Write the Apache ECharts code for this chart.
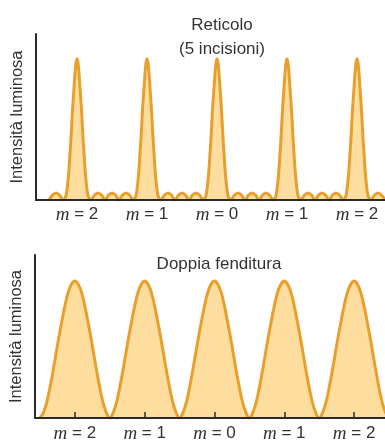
<!DOCTYPE html>
<html>
<head>
<meta charset="utf-8">
<script src="https://cdn.jsdelivr.net/npm/echarts@6/dist/echarts.min.js"></script>
<style>
  html, body { margin: 0; padding: 0; background: #fff; }
  #chart { width: 385px; height: 443px; }
</style>
</head>
<body>
<div id="chart"></div>
<script>
// orders of the maxima (axis position -> label)
const mPos = [-2, -1, 0, 1, 2];
const mText = ['2', '1', '0', '1', '2'];

// reticolo, 5 incisioni: sample positions and relative intensity
const xTop = [-2.4, -2.35, -2.3, -2.25, -2.2, -2.15, -2.1, -2.05, -2, -1.95, -1.9, -1.85,
  -1.8, -1.75, -1.7, -1.65, -1.6, -1.55, -1.5, -1.45, -1.4, -1.35, -1.3, -1.25, -1.2,
  -1.15, -1.1, -1.05, -1, -0.95, -0.9, -0.85,
  -0.8, -0.75, -0.7, -0.65, -0.6, -0.55, -0.5, -0.45, -0.4, -0.35, -0.3, -0.25, -0.2,
  -0.15, -0.1, -0.05, 0, 0.05, 0.1, 0.15,
  0.2, 0.25, 0.3, 0.35, 0.4, 0.45, 0.5, 0.55, 0.6, 0.65, 0.7, 0.75, 0.8,
  0.85, 0.9, 0.95, 1, 1.05, 1.1, 1.15,
  1.2, 1.25, 1.3, 1.35, 1.4, 1.45, 1.5, 1.55, 1.6, 1.65, 1.7, 1.75, 1.8,
  1.85, 1.9, 1.95, 2, 2.05, 2.1, 2.15,
  2.2, 2.25, 2.3, 2.35, 2.4];
const yTop = [0, 0.035, 0.05, 0.035, 0, 0.05, 0.33, 0.74, 1, 0.74, 0.33, 0.05,
  0, 0.035, 0.05, 0.035, 0, 0.035, 0.05, 0.035, 0, 0.035, 0.05, 0.035, 0,
  0.05, 0.33, 0.74, 1, 0.74, 0.33, 0.05,
  0, 0.035, 0.05, 0.035, 0, 0.035, 0.05, 0.035, 0, 0.035, 0.05, 0.035, 0,
  0.05, 0.33, 0.74, 1, 0.74, 0.33, 0.05,
  0, 0.035, 0.05, 0.035, 0, 0.035, 0.05, 0.035, 0, 0.035, 0.05, 0.035, 0,
  0.05, 0.33, 0.74, 1, 0.74, 0.33, 0.05,
  0, 0.035, 0.05, 0.035, 0, 0.035, 0.05, 0.035, 0, 0.035, 0.05, 0.035, 0,
  0.05, 0.33, 0.74, 1, 0.74, 0.33, 0.05,
  0, 0.035, 0.05, 0.035, 0];

// doppia fenditura
const xBot = [-2.5, -2.45, -2.4, -2.35, -2.3, -2.25, -2.2, -2.15, -2.1, -2.05, -2,
  -1.95, -1.9, -1.85, -1.8, -1.75, -1.7, -1.65, -1.6, -1.55, -1.5,
  -1.45, -1.4, -1.35, -1.3, -1.25, -1.2, -1.15, -1.1, -1.05, -1,
  -0.95, -0.9, -0.85, -0.8, -0.75, -0.7, -0.65, -0.6, -0.55, -0.5,
  -0.45, -0.4, -0.35, -0.3, -0.25, -0.2, -0.15, -0.1, -0.05, 0,
  0.05, 0.1, 0.15, 0.2, 0.25, 0.3, 0.35, 0.4, 0.45, 0.5,
  0.55, 0.6, 0.65, 0.7, 0.75, 0.8, 0.85, 0.9, 0.95, 1,
  1.05, 1.1, 1.15, 1.2, 1.25, 1.3, 1.35, 1.4, 1.45, 1.5,
  1.55, 1.6, 1.65, 1.7, 1.75, 1.8, 1.85, 1.9, 1.95, 2,
  2.05, 2.1, 2.15, 2.2, 2.25, 2.3, 2.35, 2.4, 2.45, 2.5];
const yBot = [0, 0.04, 0.12, 0.24, 0.38, 0.53, 0.67, 0.8, 0.91, 0.975, 1,
  0.975, 0.91, 0.8, 0.67, 0.53, 0.38, 0.24, 0.12, 0.04, 0,
  0.04, 0.12, 0.24, 0.38, 0.53, 0.67, 0.8, 0.91, 0.975, 1,
  0.975, 0.91, 0.8, 0.67, 0.53, 0.38, 0.24, 0.12, 0.04, 0,
  0.04, 0.12, 0.24, 0.38, 0.53, 0.67, 0.8, 0.91, 0.975, 1,
  0.975, 0.91, 0.8, 0.67, 0.53, 0.38, 0.24, 0.12, 0.04, 0,
  0.04, 0.12, 0.24, 0.38, 0.53, 0.67, 0.8, 0.91, 0.975, 1,
  0.975, 0.91, 0.8, 0.67, 0.53, 0.38, 0.24, 0.12, 0.04, 0,
  0.04, 0.12, 0.24, 0.38, 0.53, 0.67, 0.8, 0.91, 0.975, 1,
  0.975, 0.91, 0.8, 0.67, 0.53, 0.38, 0.24, 0.12, 0.04, 0];

const stroke = '#E89F2E';
const fill = '#FDDE9E';
const ink = '#333333';

const myChart = echarts.init(document.getElementById('chart'));

function xAxisFor(gridIndex, min, max, ticks, margin) {
  return {
    gridIndex: gridIndex,
    type: 'value',
    min: min,
    max: max,
    z: 5,
    axisLine: { show: true, onZero: false, lineStyle: { color: '#2a2a2a', width: 2 } },
    axisTick: {
      show: ticks,
      inside: true,
      length: 6,
      customValues: mPos,
      lineStyle: { color: '#2a2a2a', width: 1.5 }
    },
    splitLine: { show: false },
    axisLabel: {
      customValues: mPos,
      margin: margin,
      color: ink,
      fontFamily: 'Liberation Sans',
      fontSize: 17,
      formatter: function (v) {
        return '{m|m} = ' + mText[mPos.indexOf(Math.round(v))];
      },
      rich: {
        m: { fontFamily: 'Liberation Serif', fontStyle: 'italic', fontSize: 19, color: ink }
      }
    }
  };
}

function yAxisFor(gridIndex, max) {
  return {
    gridIndex: gridIndex,
    type: 'value',
    min: 0,
    max: max,
    z: 5,
    name: 'Intensità luminosa',
    nameLocation: 'middle',
    nameGap: 10,
    nameTextStyle: { color: ink, fontFamily: 'Liberation Sans', fontSize: 16.5 },
    axisLine: { show: true, onZero: false, lineStyle: { color: '#2a2a2a', width: 2 } },
    axisTick: { show: false },
    axisLabel: { show: false },
    splitLine: { show: false }
  };
}

function curve(i, xs, ys) {
  return {
    type: 'line',
    xAxisIndex: i,
    yAxisIndex: i,
    data: xs.map((x, k) => [x, ys[k]]),
    showSymbol: false,
    smooth: 0.4,
    clip: true,
    lineStyle: { color: stroke, width: 3 },
    areaStyle: { color: fill, opacity: 1 }
  };
}

const option = {
  animation: false,
  title: [
    {
      text: 'Reticolo\n(5 incisioni)',
      left: 217,
      top: 8,
      textAlign: 'center',
      textStyle: { color: ink, fontFamily: 'Liberation Sans', fontSize: 17, fontWeight: 'normal', lineHeight: 24 }
    },
    {
      text: 'Doppia fenditura',
      left: 214,
      top: 251,
      textAlign: 'center',
      textStyle: { color: ink, fontFamily: 'Liberation Sans', fontSize: 17, fontWeight: 'normal' }
    }
  ],
  grid: [
    { left: 36, top: 34, width: 349, height: 166 },
    { left: 34, top: 255, width: 351, height: 167 }
  ],
  xAxis: [
    xAxisFor(0, -2.586, 2.4, false, 5),
    xAxisFor(1, -2.571, 2.443, true, 6)
  ],
  yAxis: [
    yAxisFor(0, 1.175),
    yAxisFor(1, 1.19)
  ],
  series: [
    curve(0, xTop, yTop),
    curve(1, xBot, yBot)
  ]
};

myChart.setOption(option);
</script>
</body>
</html>
